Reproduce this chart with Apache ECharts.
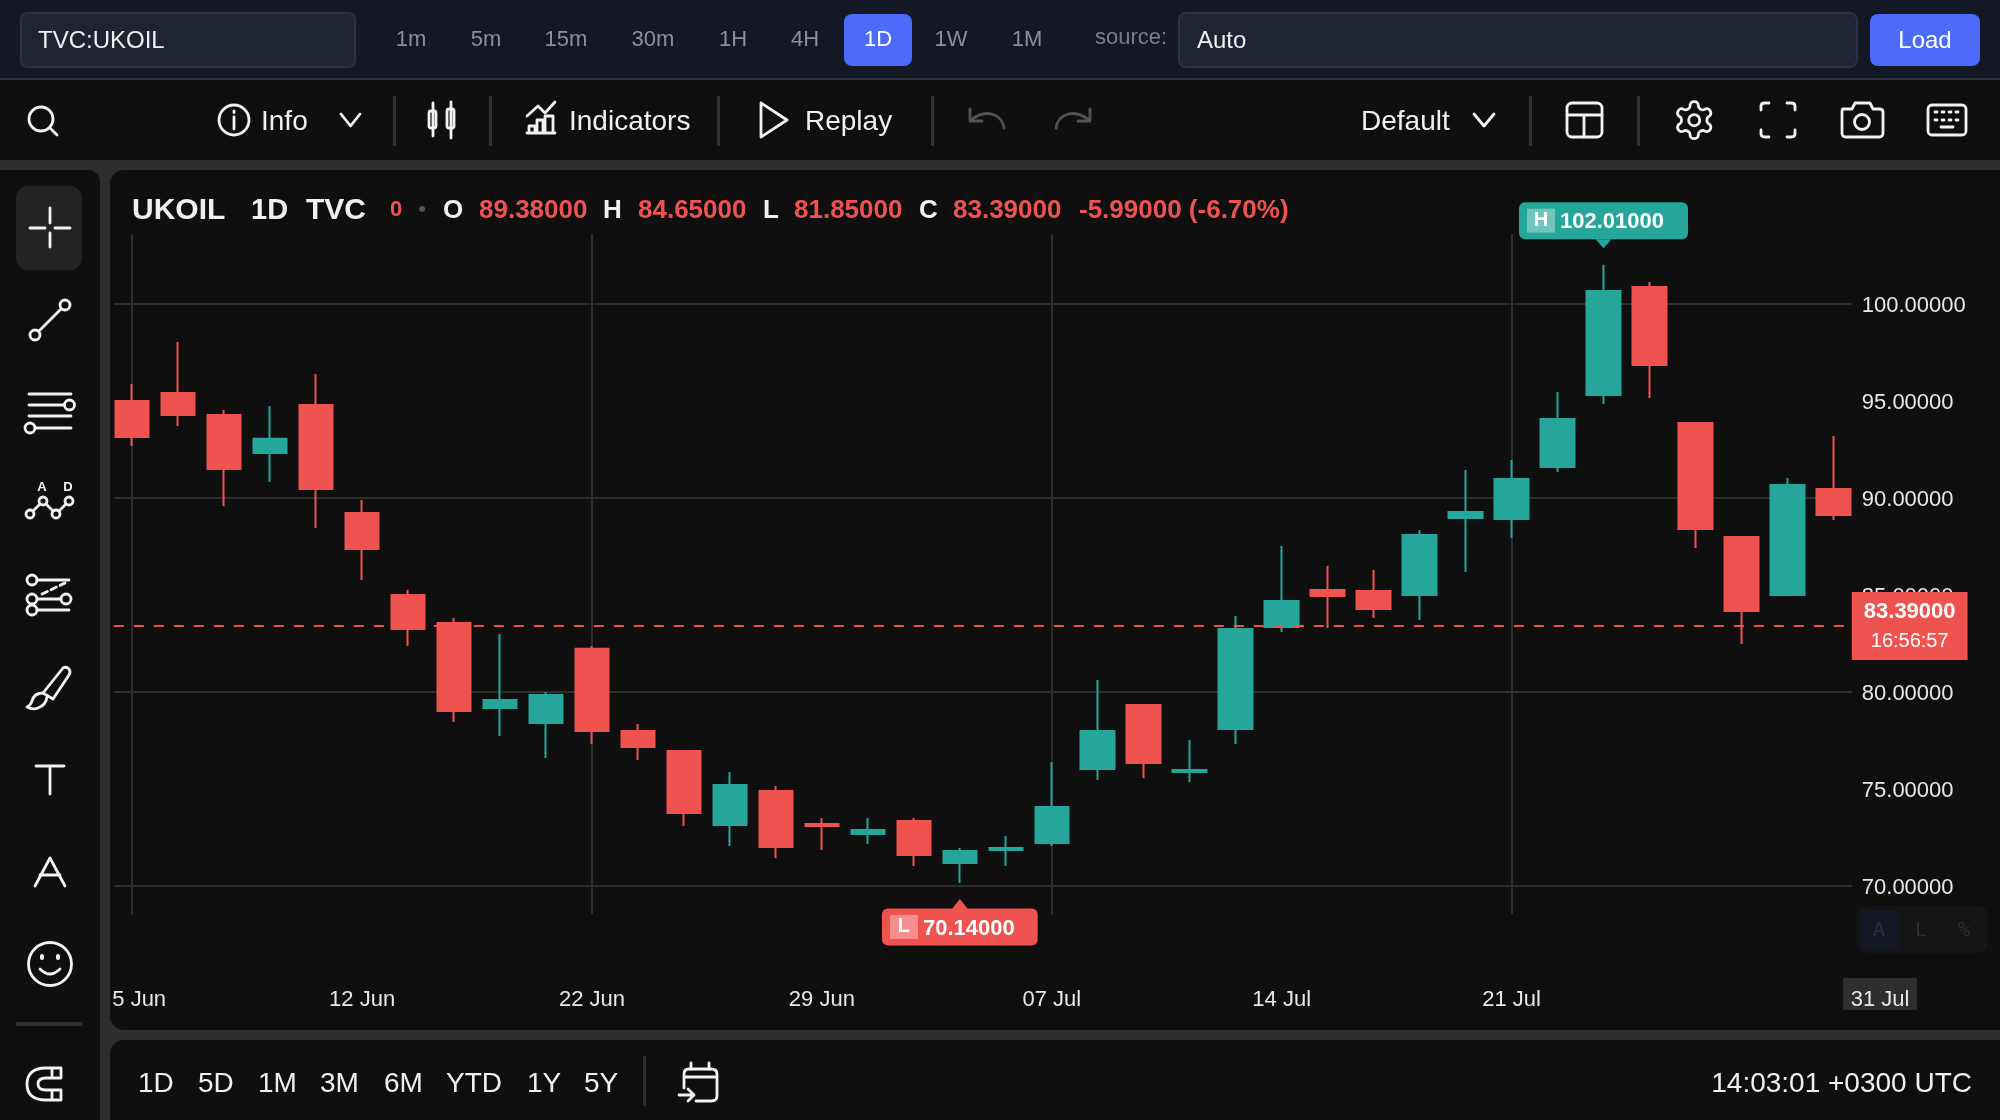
<!DOCTYPE html>
<html>
<head>
<meta charset="utf-8">
<title>UKOIL 1D</title>
<script src="https://cdn.jsdelivr.net/npm/echarts@6/dist/echarts.min.js"></script>
<style>
  html, body { margin: 0; padding: 0; width: 2000px; height: 1120px; overflow: hidden; background: #2e2e2e; }
  body { font-family: "Liberation Sans", Arial, sans-serif; position: relative; }
  .box, .txt { position: absolute; }
  .txt { white-space: nowrap; line-height: 1; }
  #chart { position: absolute; left: 0; top: 0; width: 2000px; height: 1120px; }
  #icons { position: absolute; left: 0; top: 0; }
  #icons * { fill: none; stroke: #f2f2f2; stroke-width: 2.8; stroke-linecap: round; stroke-linejoin: round; }
</style>
</head>
<body>
<div id="panels"></div>
<div id="chart"></div>
<svg id="icons" width="2000" height="1120" viewBox="0 0 2000 1120">
  <!-- toolbar -->
  <circle cx="41" cy="119" r="12"/><path d="M50 128 L57 135"/>
  <circle cx="234" cy="120" r="15"/><path d="M234 117 V129"/><path d="M234 111 V112.5"/>
  <path d="M341 114 L350.5 126 L360 114"/>
  <path d="M433 103 V136 M451 102 V138"/>
  <rect x="429" y="111" width="7" height="17" rx="2"/><rect x="447" y="109" width="7" height="19" rx="2"/>
  <path d="M527 116 L538 106 L545 113 L555 102"/>
  <path d="M527 133 H555 M529 133 V126 H535 V133 M537 133 V120 H543 V133 M545 133 V116 H553 V133"/>
  <path d="M761 103 L787 120 L761 137 Z"/>
  <g style="opacity:.3"><path d="M1004 128 C1002 114 986 108 971 120"/><path d="M970 109 L970 121 L982 121"/></g>
  <g style="opacity:.3"><path d="M1056 128 C1058 114 1074 108 1089 120"/><path d="M1090 109 L1090 121 L1078 121"/></g>
  <path d="M1474 114 L1484 126 L1494 114"/>
  <rect x="1567" y="103" width="35" height="34" rx="5"/><path d="M1567 115 H1602 M1584 115 V137"/>
  <g transform="translate(1672 98) scale(1.85)">
    <path style="stroke-width:1.5" d="M12.22 2h-.44a2 2 0 0 0-2 2v.18a2 2 0 0 1-1 1.73l-.43.25a2 2 0 0 1-2 0l-.15-.08a2 2 0 0 0-2.73.73l-.22.38a2 2 0 0 0 .73 2.73l.15.1a2 2 0 0 1 1 1.72v.51a2 2 0 0 1-1 1.74l-.15.09a2 2 0 0 0-.73 2.73l.22.38a2 2 0 0 0 2.73.73l.15-.08a2 2 0 0 1 2 0l.43.25a2 2 0 0 1 1 1.73V20a2 2 0 0 0 2 2h.44a2 2 0 0 0 2-2v-.18a2 2 0 0 1 1-1.73l.43-.25a2 2 0 0 1 2 0l.15.08a2 2 0 0 0 2.73-.73l.22-.39a2 2 0 0 0-.73-2.73l-.15-.08a2 2 0 0 1-1-1.74v-.5a2 2 0 0 1 1-1.74l.15-.09a2 2 0 0 0 .73-2.73l-.22-.38a2 2 0 0 0-2.73-.73l-.15.08a2 2 0 0 1-2 0l-.43-.25a2 2 0 0 1-1-1.73V4a2 2 0 0 0-2-2z"/>
    <circle style="stroke-width:1.5" cx="12" cy="12" r="3"/>
  </g>
  <path d="M1761 110 V106 Q1761 103 1765 103 H1769 M1787 103 H1791 Q1795 103 1795 106 V110 M1795 130 V134 Q1795 137 1791 137 H1787 M1769 137 H1765 Q1761 137 1761 134 V130"/>
  <path d="M1843 109 Q1842 109 1842 112 V133 Q1842 137 1846 137 H1879 Q1883 137 1883 133 V112 Q1883 109 1879 109 H1873 L1870 103 H1855 L1852 109 Z"/>
  <circle cx="1862" cy="122" r="7.5"/>
  <rect x="1928" y="105" width="38" height="30" rx="4"/>
  <path d="M1935 112 H1937 M1942 112 H1944 M1949 112 H1951 M1956 112 H1958 M1935 120 H1937 M1942 120 H1944 M1949 120 H1951 M1956 120 H1958 M1941 127 H1953"/>

  <!-- left tools -->
  <path d="M50 208 V223 M50 233 V247 M30 228 H45 M55 228 H70"/>
  <circle cx="35" cy="335" r="5"/><circle cx="65" cy="305" r="5"/><path d="M39 331 L61 309"/>
  <path d="M29 394 H71 M29 405 H64 M29 416 H71 M35 428 H71"/><circle cx="69.5" cy="405" r="5"/><circle cx="30" cy="428" r="5"/>
  <circle cx="30" cy="514" r="4"/><circle cx="43" cy="501" r="4"/><circle cx="56" cy="514" r="4"/><circle cx="69" cy="501" r="4"/>
  <path d="M33 511 L40 504 M46 504 L53 511 M59 511 L66 504"/>
  <circle cx="32" cy="580" r="5"/><path d="M37 580 H69"/><path d="M42 594 L65 583" stroke-dasharray="6 4"/>
  <circle cx="32" cy="599" r="5"/><circle cx="66" cy="599" r="5"/><path d="M37 599 H61"/>
  <circle cx="32" cy="610" r="5"/><path d="M37 610 H69"/>
  <path d="M63 668 Q66 666 69 669 Q71 672 69 675 L53 699 L43 693 Z"/>
  <path d="M43 693 Q34 693 32 701 Q31 705 27 707 Q33 710 38 708 Q46 705 47 697"/>
  <path d="M36 766 H64 M50 766 V794"/>
  <path d="M35 886 L50 858 L65 886 M40 875 H60"/>
  <circle cx="50" cy="964" r="21.5"/><path d="M40 969 Q50 979 60 969"/>
  <path d="M42 956 V958 M58 956 V958" style="stroke-width:4"/>
  <path d="M61 1068 H46 Q27 1068 27 1084 Q27 1100 46 1100 H61 V1090 H46 Q38 1090 38 1084 Q38 1078 46 1078 H61 Z M52 1068 V1078 M52 1090 V1100"/>

  <!-- bottom bar -->
  <path d="M691 1069 V1063 M709 1069 V1063"/>
  <path d="M684 1088 V1074 Q684 1069 689 1069 H711 Q717 1069 717 1074 V1096 Q717 1101 711 1101 H696 M684 1077 H717"/>
  <path d="M679 1095 H693 M688 1089 L694 1095 L688 1101"/>
</svg>
<div id="labels"></div>

<script>
// values, index 0 is the leftmost candle
var opens = [94.98, 95.40, 94.26, 92.30, 94.78, 89.21, 84.98, 83.54, 79.16, 78.38,
  82.21, 77.97, 76.94, 73.13, 74.88, 73.18, 72.66, 73.33, 71.17, 71.84,
  72.20, 76.01, 79.31, 75.86, 78.07, 83.33, 85.24, 85.19, 84.98, 88.95,
  88.90, 91.58, 95.29, 100.86, 93.85, 87.97, 84.98, 90.45];
var closes = [93.13, 94.26, 91.48, 93.03, 90.45, 87.35, 83.23, 79.00, 79.57, 79.83,
  77.97, 77.15, 73.74, 75.19, 71.99, 73.08, 72.87, 71.58, 71.79, 71.94,
  74.06, 77.97, 76.32, 75.96, 83.23, 84.67, 84.93, 84.26, 88.08, 89.26,
  90.96, 94.06, 100.65, 96.84, 88.38, 84.16, 90.65, 89.10];
var lows = [92.66, 93.69, 89.57, 90.81, 88.44, 85.76, 82.36, 78.44, 77.71, 76.58,
  77.30, 76.48, 73.08, 72.04, 71.43, 71.84, 72.15, 71.01, 70.14, 71.01,
  72.04, 75.45, 75.55, 75.34, 77.30, 83.08, 83.28, 83.80, 83.69, 86.17,
  87.92, 91.32, 94.83, 95.14, 87.41, 82.46, 84.93, 88.85];
var highs = [95.86, 98.02, 94.52, 94.73, 96.37, 89.88, 85.24, 83.80, 82.97, 79.98,
  82.36, 78.33, 76.99, 75.86, 75.14, 73.49, 73.49, 73.49, 71.94, 72.56,
  76.37, 80.60, 79.36, 77.51, 83.90, 87.51, 86.48, 86.27, 88.33, 91.43,
  91.94, 95.45, 102.01, 101.12, 93.90, 88.02, 91.01, 93.18];
var dateTicks = [0, 5, 10, 15, 20, 25, 30];
var dateLabels = ['5 Jun', '12 Jun', '22 Jun', '29 Jun', '07 Jul', '14 Jul', '21 Jul'];
var dateGridLines = [0, 10, 20, 30];
var priceTicks = [70, 75, 80, 85, 90, 95, 100];
var priceGridLines = [70, 80, 90, 100];
var lastPrice = 83.39;
var countdown = '16:56:57';

var UP = '#26a69a';
var DOWN = '#ef5350';
var GRID = '#2e2e2e';

function box(x, y, w, h, bg, radius, border) {
  var el = document.createElement('div');
  el.className = 'box';
  el.style.cssText = 'left:' + x + 'px;top:' + y + 'px;width:' + w + 'px;height:' + h + 'px;background:' + bg + ';';
  if (radius) el.style.borderRadius = radius;
  if (border) { el.style.boxSizing = 'border-box'; el.style.border = border; }
  document.getElementById('panels').appendChild(el);
}

function text(str, x, y, size, color, weight, anchor, family) {
  var el = document.createElement('div');
  el.className = 'txt';
  el.textContent = str;
  var dx = anchor == 'center' ? '-50%' : anchor == 'right' ? '-100%' : '0';
  el.style.cssText = 'left:' + x + 'px;top:' + y + 'px;font-size:' + size + 'px;color:' + color +
    ';font-weight:' + (weight || 'normal') + ';transform:translate(' + dx + ',-50%);' +
    (family ? 'font-family:' + family + ';' : '');
  document.getElementById('labels').appendChild(el);
}

// page panels
box(0, 0, 2000, 78, '#141824');
box(0, 78, 2000, 2, '#2c3040');
box(0, 80, 2000, 80, '#0f0f0f');
box(0, 170, 100, 950, '#0f0f0f', '0 12px 0 0');
box(110, 170, 1890, 860, '#0f0f0f', '14px 0 0 14px');
box(110, 1040, 1890, 80, '#0f0f0f', '14px 0 0 0');

// top bar
box(20, 12, 336, 56, '#1f2433', '8px', '2px solid #2c3146');
box(844, 14, 68, 52, '#4d6bfa', '8px');
box(1178, 12, 680, 56, '#1f2433', '8px', '2px solid #2c3146');
box(1870, 14, 110, 52, '#4d6bfa', '8px');
text('TVC:UKOIL', 38, 40, 24, '#f0f0f0');
[['1m', 411], ['5m', 486], ['15m', 566], ['30m', 653], ['1H', 733], ['4H', 805], ['1W', 951], ['1M', 1027]].forEach(function (p) {
  text(p[0], p[1], 39, 22, '#8a90a0', null, 'center');
});
text('1D', 878, 39, 22, '#ffffff', null, 'center');
text('source:', 1095, 37, 22, '#7a7f8a');
text('Auto', 1197, 40, 24, '#f0f0f0');
text('Load', 1925, 40, 24, '#ffffff', null, 'center');

// toolbar
text('Info', 261, 121, 28, '#f0f0f0');
text('Indicators', 569, 121, 28, '#f0f0f0');
text('Replay', 805, 121, 28, '#f0f0f0');
text('Default', 1361, 121, 28, '#f0f0f0');
[394, 490, 718, 932, 1530, 1638].forEach(function (x) { box(x - 1.5, 96, 3, 50, '#333333'); });

// left tools
box(16, 186, 66, 84, '#232323', '12px');
text('A', 42, 486, 13, '#f2f2f2', 'bold', 'center');
text('D', 68, 486, 13, '#f2f2f2', 'bold', 'center');
box(16, 1022, 66, 4, '#2e2e2e');

// chart header
text('UKOIL', 132, 209, 30, '#f0f0f0', 'bold');
text('1D', 251, 209, 29, '#f0f0f0', 'bold');
text('TVC', 306, 209, 30, '#f0f0f0', 'bold');
text('0', 390, 209, 22, DOWN, 'bold');
text('•', 422, 209, 22, '#555555', null, 'center');
[['O', 443, '89.38000', 479], ['H', 603, '84.65000', 638], ['L', 763, '81.85000', 794], ['C', 919, '83.39000', 953]].forEach(function (h) {
  text(h[0], h[1], 209, 26, '#f0f0f0', 'bold');
  text(h[2], h[3], 209, 26, DOWN, 'bold');
});
text('-5.99000 (-6.70%)', 1079, 209, 26, DOWN, 'bold');

// scale mode buttons and the crosshair date box
box(1856, 906, 132, 47, '#151515', '10px');
box(1860, 910, 39, 40, '#141824', '4px');
text('A', 1879, 929, 20, '#2b2f45', null, 'center', '"DejaVu Sans Mono"');
text('L', 1921, 929, 20, '#2e2e2e', null, 'center', '"DejaVu Sans Mono"');
text('%', 1964, 929, 20, '#2e2e2e', null, 'center', '"DejaVu Sans Mono"');
box(1843, 978, 74, 32, '#2e2e2e');
text('31 Jul', 1880, 999, 22, '#e8e8e8', null, 'center');

// bottom bar
[['1D', 138], ['5D', 198], ['1M', 258], ['3M', 320], ['6M', 384], ['YTD', 446], ['1Y', 527], ['5Y', 584]].forEach(function (r) {
  text(r[0], r[1], 1083, 28, '#f0f0f0');
});
box(642.5, 1056, 3, 50, '#2e2e2e');
text('14:03:01 +0300 UTC', 1972, 1083, 28, '#f0f0f0', null, 'right');

var candles = opens.map(function (o, i) {
  return [i, o, closes[i], lows[i], highs[i]];
});
var highest = Math.max.apply(null, highs);
var lowest = Math.min.apply(null, lows);

function extremeTag(letter, color) {
  return {
    show: true,
    position: 'inside',
    formatter: '{b|' + letter + '}{v|' + (letter == 'H' ? highest : lowest).toFixed(5) + '}',
    backgroundColor: color,
    borderRadius: 6,
    padding: [6, letter == 'H' ? 24 : 23, 6, 8],
    rich: {
      b: { backgroundColor: 'rgba(255,255,255,0.35)', width: 28, height: 24, align: 'center', color: '#fff', fontSize: 20, fontWeight: 'bold' },
      v: { color: '#fff', fontSize: 22, fontWeight: 'bold', padding: [3, 0, 0, 5] }
    }
  };
}

var chart = echarts.init(document.getElementById('chart'), null, { renderer: 'canvas' });
chart.setOption({
  animation: false,
  backgroundColor: 'transparent',
  textStyle: { fontFamily: '"Liberation Sans", Arial, sans-serif' },
  grid: { left: 113.8, right: 148.2, top: 234, height: 680, containLabel: false },
  xAxis: {
    type: 'value',
    min: -0.4,
    max: 37.4,
    axisLine: { show: false },
    axisTick: { show: false, customValues: dateGridLines },
    splitLine: { show: true, lineStyle: { color: GRID, width: 2 } },
    axisLabel: {
      customValues: dateTicks,
      margin: 75,
      color: '#e8e8e8',
      fontSize: 22,
      formatter: function (v) {
        var i = dateTicks.indexOf(v);
        // the first label sits cut off against the panel edge
        return i == 0 ? '{first|' + dateLabels[i] + '}' : dateLabels[i];
      },
      rich: { first: { color: '#e8e8e8', fontSize: 22, padding: [0, 0, 0, 14] } }
    }
  },
  yAxis: {
    type: 'value',
    position: 'right',
    min: 68.54,
    max: 103.59,
    axisLine: { show: false },
    axisTick: { show: false, customValues: priceGridLines },
    splitLine: { show: true, lineStyle: { color: GRID, width: 2 } },
    axisLabel: {
      customValues: priceTicks,
      margin: 10,
      formatter: function (v) { return '{v|' + v.toFixed(5) + '}'; },
      rich: { v: { color: '#e8e8e8', fontSize: 22, padding: [5, 0, 0, 0] } }
    }
  },
  series: [{
    type: 'candlestick',
    data: candles,
    encode: { x: 0, y: [1, 2, 3, 4] },
    barWidth: 34,
    itemStyle: { color: UP, color0: DOWN, borderColor: UP, borderColor0: DOWN, borderWidth: 2 },
    markLine: {
      silent: true,
      symbol: ['none', 'none'],
      lineStyle: { color: DOWN, width: 2, type: [10, 10] },
      emphasis: { disabled: true },
      data: [{ yAxis: lastPrice }],
      label: {
        show: true,
        position: 'end',
        distance: 0,
        backgroundColor: DOWN,
        padding: [6, 12, 4, 12],
        formatter: '{p|' + lastPrice.toFixed(5) + '}\n{t|' + countdown + '}',
        rich: {
          p: { color: '#fff', fontSize: 22, fontWeight: 'bold', lineHeight: 29, align: 'center' },
          t: { color: '#fff', fontSize: 20, lineHeight: 29, align: 'center' }
        }
      }
    },
    markPoint: {
      silent: true,
      data: [
        { coord: [32, highest], symbol: 'triangle', symbolRotate: 180, symbolSize: [16, 9], symbolOffset: [0, -21], itemStyle: { color: UP }, label: { show: false } },
        { coord: [32, highest], symbol: 'circle', symbolSize: 1, itemStyle: { color: 'transparent' }, label: Object.assign(extremeTag('H', UP), { offset: [0, -44] }) },
        { coord: [18, lowest], symbol: 'triangle', symbolSize: [16, 10], symbolOffset: [0, 21], itemStyle: { color: DOWN }, label: { show: false } },
        { coord: [18, lowest], symbol: 'circle', symbolSize: 1, itemStyle: { color: 'transparent' }, label: Object.assign(extremeTag('L', DOWN), { offset: [0, 44] }) }
      ]
    }
  }]
});
</script>
</body>
</html>
